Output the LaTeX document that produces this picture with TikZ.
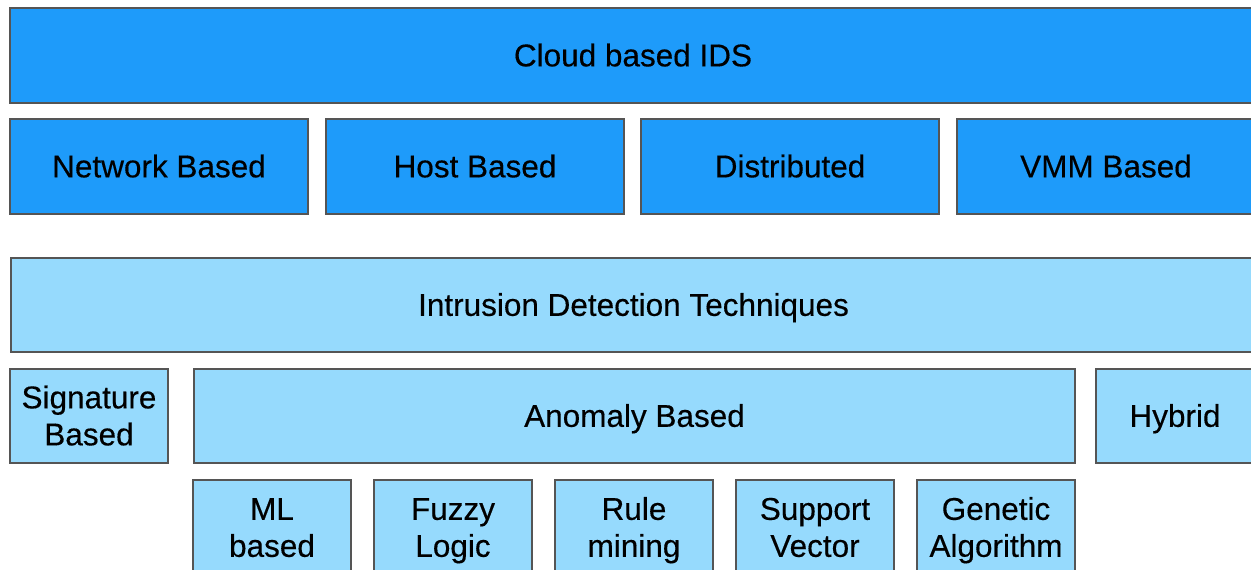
\documentclass[tikz,border=0pt]{standalone}
\usepackage{fontspec}
\setmainfont{Liberation Sans}
\newfontfamily\boxfont{Liberation Sans}[FakeBold=0.35]
\definecolor{darkbox}{RGB}{30,155,250}
\definecolor{lightbox}{RGB}{150,218,253}
\definecolor{edge}{RGB}{85,85,85}
\newcommand\cln[1]{\vphantom{A}\smash{#1}}
\tikzset{
  box/.style={draw=edge, line width=1.1pt, inner sep=0pt, align=center,
    minimum height=95pt, font=\boxfont\fontsize{31.5}{37}\selectfont, text=black},
  darkb/.style={box, fill=darkbox},
  lightb/.style={box, fill=lightbox}
}
\begin{document}
\begin{tikzpicture}[x=1pt,y=-1pt]
\useasboundingbox (0,0) rectangle (1251,570);
\clip (0,0) rectangle (1251,570);
\node[darkb, minimum width=1246pt] (cloud) at (633,55.5) {\cln{Cloud based IDS}};
\node[darkb, minimum width=298pt] (net) at (159,166.5) {\cln{Network Based}};
\node[darkb, minimum width=298pt] (host) at (475,166.5) {\cln{Host Based}};
\node[darkb, minimum width=298pt] (dist) at (790,166.5) {\cln{Distributed}};
\node[darkb, minimum width=298pt] (vmm) at (1106,166.5) {\cln{VMM Based}};
\node[lightb, minimum width=1245pt, minimum height=94pt] (idt) at (633.5,305) {\cln{Intrusion Detection Techniques}};
\node[lightb, minimum width=158pt, minimum height=94pt] (sig) at (89,416) {\cln{Signature}\\\cln{Based}};
\node[lightb, minimum width=881pt, minimum height=94pt] (anom) at (634.5,416) {\cln{Anomaly Based}};
\node[lightb, minimum width=158pt, minimum height=94pt] (hyb) at (1175,416) {\cln{Hybrid}};
\node[lightb, minimum width=158pt] (ml) at (272,527.5) {\cln{ML}\\\cln{based}};
\node[lightb, minimum width=158pt] (fuzzy) at (453,527.5) {\cln{Fuzzy}\\\cln{Logic}};
\node[lightb, minimum width=158pt] (rule) at (634,527.5) {\cln{Rule}\\\cln{mining}};
\node[lightb, minimum width=158pt] (svm) at (815,527.5) {\cln{Support}\\\cln{Vector}};
\node[lightb, minimum width=158pt] (gen) at (996,527.5) {\cln{Genetic}\\\cln{Algorithm}};
\end{tikzpicture}
\end{document}
